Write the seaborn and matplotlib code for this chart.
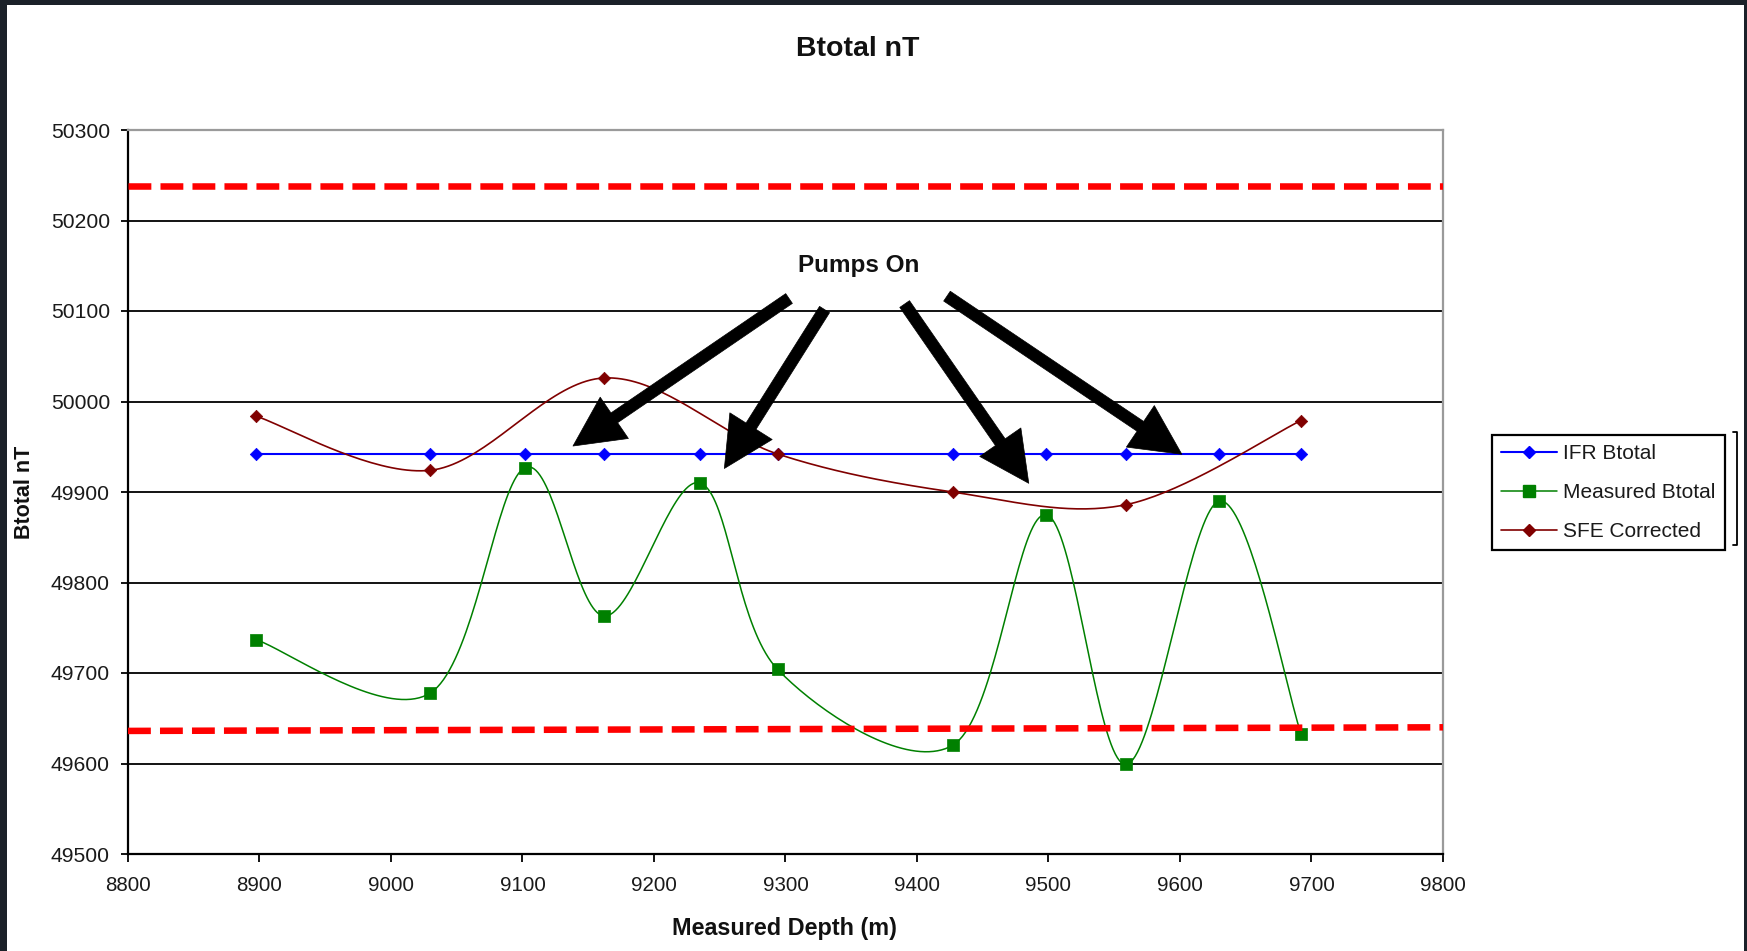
import numpy as np
import pandas as pd
import matplotlib
matplotlib.use("Agg")
import matplotlib.pyplot as plt
import seaborn as sns
from matplotlib.lines import Line2D
from matplotlib.patches import Rectangle

# ---------------- data ----------------
depth = [8897, 9030, 9102, 9162, 9235, 9294, 9427, 9498, 9559, 9630, 9692]
ifr_btotal = [49942, 49942, 49942, 49942, 49942, 49942, 49942, 49942, 49942, 49942, 49942]
measured_btotal = [49737, 49678, 49927, 49763, 49910, 49704, 49620, 49875, 49599, 49890, 49633]
sfe_depth = [8897, 9030, 9162, 9294, 9427, 9559, 9692]
sfe_corrected = [49984, 49924, 50026, 49942, 49900, 49886, 49979]
limit_x = [8800, 9800]
upper_limit = [50238, 50238]
lower_limit = [49636, 49640]
arrow_tail_x = [9302.7, 9329.7, 9390.6, 9422.8]
arrow_tail_y = [50113.8, 50101.6, 50107.7, 50116.4]
arrow_tip_x = [9138.4, 9253.5, 9485.0, 9601.4]
arrow_tip_y = [49950.8, 49926.0, 49909.6, 49941.7]
x_ticks = list(range(8800, 9801, 100))
y_ticks = list(range(49500, 50301, 100))
series_names = ["IFR Btotal", "Measured Btotal", "SFE Corrected"]


def smooth(xs, ys, n=40):
    """Excel-like smoothed line (Catmull-Rom Bezier through the points)."""
    P = np.column_stack([xs, ys]).astype(float)
    ext = np.vstack([P[0], P, P[-1]])
    t = np.linspace(0, 1, n)[:, None]
    out = []
    for i in range(len(P) - 1):
        p0, p1, p2, p3 = ext[i], ext[i + 1], ext[i + 2], ext[i + 3]
        c1 = p1 + (p2 - p0) / 6.0
        c2 = p2 - (p3 - p1) / 6.0
        seg = (1 - t) ** 3 * p1 + 3 * (1 - t) ** 2 * t * c1 + 3 * (1 - t) * t ** 2 * c2 + t ** 3 * p2
        out.append(seg if i == 0 else seg[1:])
    return np.vstack(out)


sns.set_style("white")
plt.rcParams["font.family"] = ["Liberation Sans", "DejaVu Sans"]

W, H = 1747, 951
fig = plt.figure(figsize=(W / 100, H / 100), dpi=100, facecolor="#1b2129")
fig.add_artist(Rectangle((7 / W, 0), (1744 - 7) / W, 1 - 5 / H, transform=fig.transFigure,
                         facecolor="white", edgecolor="none", zorder=-10))

ax = fig.add_axes([128 / W, 1 - 854 / H, (1443 - 128) / W, (854 - 130) / H])
ax.set_facecolor("white")

blue, green, dred, red = "#0000FF", "#008000", "#800000", "#FF0000"

# IFR Btotal
c = smooth(depth, ifr_btotal)
sns.lineplot(x=c[:, 0], y=c[:, 1], sort=False, estimator=None, ax=ax, color=blue, lw=1.5, zorder=3)
sns.scatterplot(x=depth, y=ifr_btotal, ax=ax, marker="D", s=40, color=blue, edgecolor=blue,
                linewidth=0.5, zorder=4)

# Measured Btotal
c = smooth(depth, measured_btotal)
sns.lineplot(x=c[:, 0], y=c[:, 1], sort=False, estimator=None, ax=ax, color=green, lw=1.1, zorder=3)
sns.scatterplot(x=depth, y=measured_btotal, ax=ax, marker="s", s=64, color=green, edgecolor=green,
                linewidth=0.5, zorder=4)

# SFE Corrected
c = smooth(sfe_depth, sfe_corrected)
sns.lineplot(x=c[:, 0], y=c[:, 1], sort=False, estimator=None, ax=ax, color=dred, lw=1.2, zorder=3)
sns.scatterplot(x=sfe_depth, y=sfe_corrected, ax=ax, marker="D", s=40, color=dred, edgecolor=dred,
                linewidth=0.5, zorder=4)

# limit lines
for lim in (upper_limit, lower_limit):
    sns.lineplot(x=limit_x, y=lim, ax=ax, color=red, lw=4.7, linestyle=(0, (3.5, 1.4)),
                 zorder=5, estimator=None, sort=False)
for ln in ax.lines[-2:]:
    ln.set_dash_capstyle("butt")

ax.set_xlim(8800, 9800)
ax.set_ylim(49500, 50300)
ax.set_xticks(x_ticks)
ax.set_yticks(y_ticks)
ax.set_xlabel("")
ax.set_ylabel("")
ax.yaxis.grid(True, color="black", lw=1.3)
ax.xaxis.grid(False)
ax.set_axisbelow(True)

for s in ("left", "bottom"):
    ax.spines[s].set_color("black")
    ax.spines[s].set_linewidth(1.6)
for s in ("top", "right"):
    ax.spines[s].set_visible(True)
    ax.spines[s].set_color("#9a9a9a")
    ax.spines[s].set_linewidth(1.6)

ax.tick_params(axis="y", direction="out", length=5, width=1.3, color="black", pad=8,
               labelsize=15.2, labelcolor="#1a1a1a", left=True)
ax.tick_params(axis="x", direction="out", length=6, width=1.3, color="black", pad=10,
               labelsize=14.8, labelcolor="#1a1a1a", bottom=True)

# arrows and annotation
for tx, ty, hx, hy in zip(arrow_tail_x, arrow_tail_y, arrow_tip_x, arrow_tip_y):
    ax.annotate("", xy=(hx, hy), xytext=(tx, ty),
                arrowprops=dict(arrowstyle="simple,head_length=3.6,head_width=3.6,tail_width=0.85",
                                mutation_scale=10, fc="black", ec="black", lw=0.5,
                                shrinkA=0, shrinkB=0),
                zorder=6)
ax.text(9356, 50150, "Pumps On", ha="center", va="center", fontsize=17.5, fontweight="bold",
        color="#111111", zorder=7)

# titles
fig.text(858 / W, 1 - 49 / H, "Btotal nT", ha="center", va="center", fontsize=20.5,
         fontweight="bold", color="#111111")
fig.text(25 / W, 1 - 492 / H, "Btotal nT", ha="center", va="center", rotation=90,
         fontsize=15.5, fontweight="bold", color="#111111")
fig.text(784 / W, 1 - 928 / H, "Measured Depth (m)", ha="center", va="center",
         fontsize=16.8, fontweight="bold", color="#111111")

# legend
handles = [
    Line2D([], [], color=blue, lw=1.5, marker="D", markersize=6.5, markeredgecolor=blue),
    Line2D([], [], color=green, lw=1.1, marker="s", markersize=8.5, markeredgecolor=green),
    Line2D([], [], color=dred, lw=1.2, marker="D", markersize=6.5, markeredgecolor=dred),
]
leg = ax.legend(handles, series_names, loc="upper left",
                bbox_to_anchor=(1492 / W, 1 - 435 / H), bbox_transform=fig.transFigure,
                borderaxespad=0, fontsize=15, frameon=True, fancybox=False, framealpha=1,
                edgecolor="black", handlelength=2.65, handletextpad=0.3, labelspacing=0.95,
                borderpad=0.45)
leg.get_frame().set_linewidth(1.6)
for t in leg.get_texts():
    t.set_color("#1a1a1a")

# small bracket right of the legend
bx0, bx1 = 1733 / W, 1737 / W
by0, by1 = 1 - 432 / H, 1 - 545 / H
fig.add_artist(Line2D([bx0, bx1, bx1, bx0], [by0, by0, by1, by1], transform=fig.transFigure,
                      color="black", lw=1.3))

fig.savefig("out.png", dpi=100, facecolor=fig.get_facecolor())
